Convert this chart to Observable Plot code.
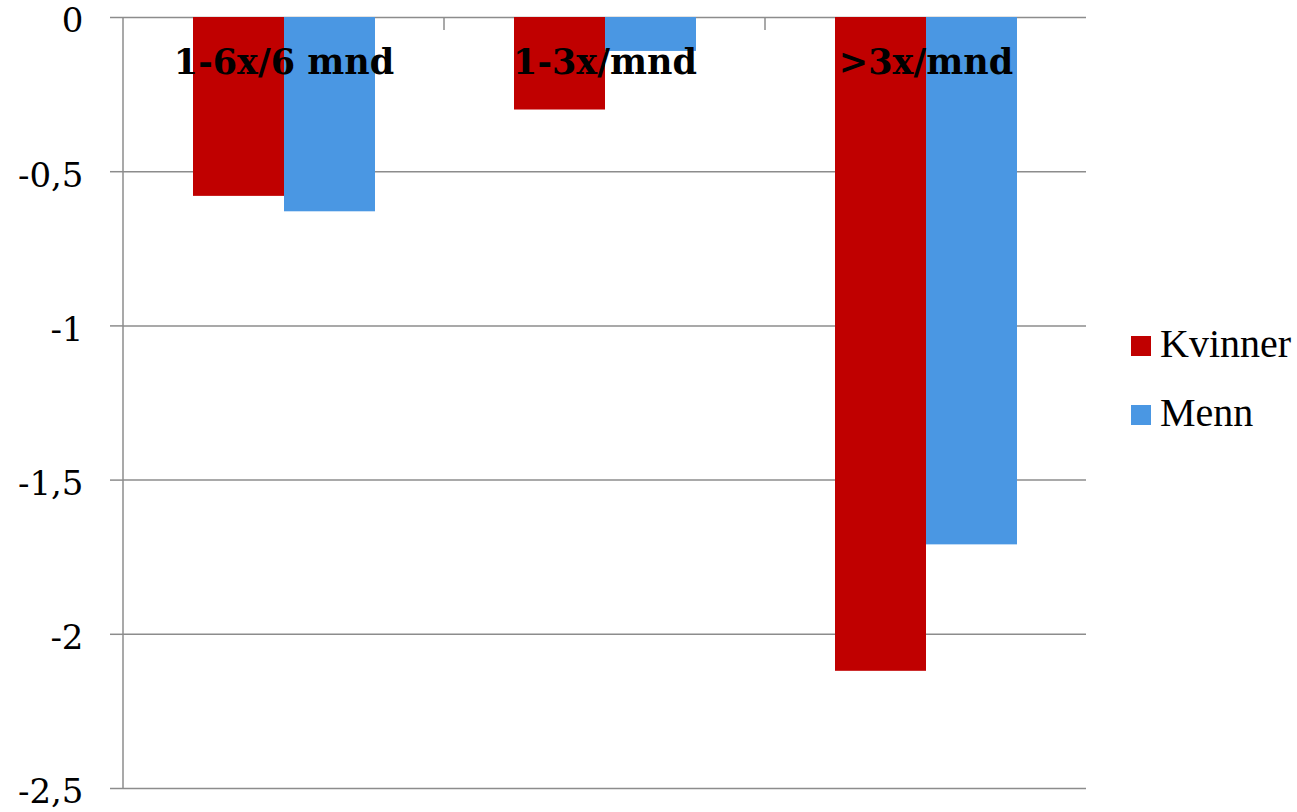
<!DOCTYPE html>
<html>
<head>
<meta charset="utf-8">
<script src="https://cdn.jsdelivr.net/npm/d3@7"></script>
<script src="https://cdn.jsdelivr.net/npm/@observablehq/plot@0.6"></script>
<style>
  body { margin: 0; background: #fff; }
  #wrap { position: relative; width: 1297px; height: 812px; background: #fff; }
  #wrap svg { display: block; }
  .key { position: absolute; font-family: "Liberation Serif", serif; font-size: 40px; line-height: 40px; color: #000; white-space: nowrap; }
  .swatch { position: absolute; width: 20px; height: 20px; }
</style>
</head>
<body>
<div id="wrap"></div>
<script>
// Frequency groups along the category axis
const categories = ["1-6x/6 mnd", "1-3x/mnd", ">3x/mnd"];
// Series names (legend order)
const series = ["Kvinner", "Menn"];
// Values per group, same order as categories
const kvinner = [-0.58, -0.30, -2.12];
const menn = [-0.63, -0.11, -1.71];
// Value axis ticks
const yTicks = [0, -0.5, -1, -1.5, -2, -2.5];
const colors = ["#c00000", "#4a97e3"];

const rows = categories.flatMap((c, i) => [
  {category: c, series: series[0], value: kvinner[i]},
  {category: c, series: series[1], value: menn[i]}
]);

const gridColor = "#8c8c8c";
const serif = "DejaVu Serif";
const fmt = d => String(d).replace(".", ",");

const chart = Plot.plot({
  width: 1297,
  height: 812,
  marginLeft: 122,
  marginRight: 210,
  marginTop: 17,
  marginBottom: 24,
  style: {background: "#fff", fontFamily: serif, fontSize: "34px", color: "#000"},
  fx: {domain: categories, padding: 0, axis: null, label: null},
  x: {domain: series, paddingInner: 0, paddingOuter: 0.755, axis: null, label: null},
  y: {domain: [-2.5, 0], axis: null, label: null},
  color: {domain: series, range: colors},
  marks: [
    Plot.gridY(yTicks, {stroke: gridColor, strokeOpacity: 1, strokeWidth: 1.5}),
    Plot.barY(rows, {fx: "category", x: "series", y: "value", fill: "series"}),
    // tick marks to the left of the value axis
    Plot.axisY(yTicks, {
      anchor: "left",
      tickSize: 13,
      text: null,
      stroke: gridColor,
      strokeWidth: 1.5,
      label: null
    }),
    // value labels beside the ticks, in the first facet only
    Plot.text(yTicks, {
      fx: () => categories[0],
      y: d => d,
      text: fmt,
      frameAnchor: "left",
      textAnchor: "end",
      lineAnchor: "middle",
      dx: -40,
      dy: 4,
      fontFamily: serif,
      fontSize: 34,
      fill: "#000"
    }),
    // category names just below the zero line
    Plot.text(categories, {
      fx: d => d,
      text: d => d,
      frameAnchor: "top",
      lineAnchor: "top",
      dy: 32,
      fontFamily: serif,
      fontWeight: "bold",
      fontSize: 35,
      fill: "#000"
    })
  ]
});

// Vertical value-axis line and category boundary ticks, placed with the plot's own scales
const fxScale = chart.scale("fx");
const yScale = chart.scale("y");
const svg = d3.select(chart);
const xLeft = fxScale.apply(categories[0]);
svg.append("line")
  .attr("x1", xLeft).attr("x2", xLeft)
  .attr("y1", yScale.apply(0)).attr("y2", yScale.apply(-2.5))
  .attr("stroke", gridColor).attr("stroke-width", 1.5);
categories.slice(1).forEach(c => {
  const xb = fxScale.apply(c);
  svg.append("line")
    .attr("x1", xb).attr("x2", xb)
    .attr("y1", yScale.apply(0)).attr("y2", yScale.apply(0) + 13)
    .attr("stroke", gridColor).attr("stroke-width", 1.5);
});

const wrap = document.getElementById("wrap");
wrap.appendChild(chart);

// Legend to the right of the plot
const legendTop = [336, 405];
series.forEach((s, i) => {
  const sw = document.createElement("div");
  sw.className = "swatch";
  sw.style.left = "1131px";
  sw.style.top = legendTop[i] + "px";
  sw.style.background = colors[i];
  wrap.appendChild(sw);
  const t = document.createElement("div");
  t.className = "key";
  t.style.left = "1160px";
  t.style.top = (legendTop[i] - 12) + "px";
  t.textContent = s;
  wrap.appendChild(t);
});
</script>
</body>
</html>
